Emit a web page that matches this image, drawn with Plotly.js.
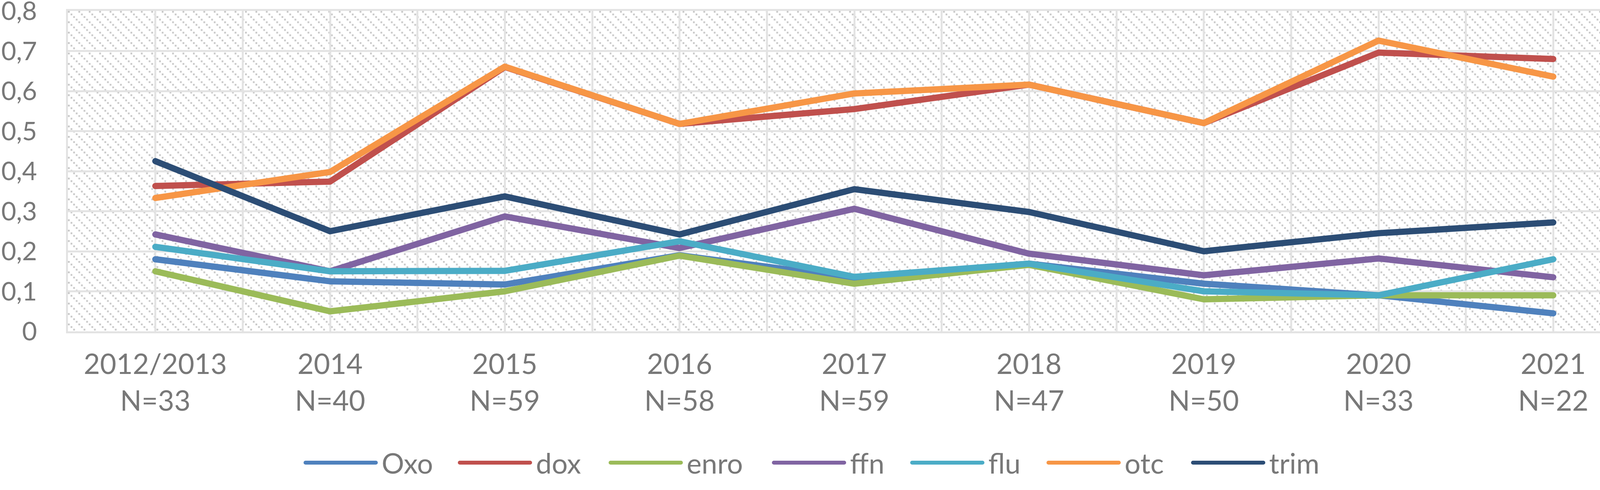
<!DOCTYPE html>
<html>
<head>
<meta charset="utf-8">
<script src="https://cdn.plot.ly/plotly-3.0.1.min.js"></script>
<style>
  html, body { margin: 0; padding: 0; background: #fff; }
  #chart { width: 4204px; height: 1254px; }
  .scatterlayer .js-line, .legendlines path { stroke-linecap: round; stroke-linejoin: round; }
</style>
</head>
<body>
<div id="chart"></div>
<script>
const years = ['2012/2013', '2014', '2015', '2016', '2017', '2018', '2019', '2020', '2021'];
const counts = [33, 40, 59, 58, 59, 47, 50, 33, 22];

const oxo  = [0.180, 0.125, 0.117, 0.190, 0.133, 0.169, 0.119, 0.090, 0.045];
const dox  = [0.363, 0.374, 0.660, 0.518, 0.555, 0.616, 0.520, 0.696, 0.680];
const enro = [0.150, 0.050, 0.100, 0.189, 0.119, 0.166, 0.080, 0.090, 0.090];
const ffn  = [0.242, 0.150, 0.287, 0.208, 0.306, 0.194, 0.140, 0.182, 0.135];
const flu  = [0.211, 0.150, 0.151, 0.225, 0.136, 0.169, 0.100, 0.090, 0.180];
const otc  = [0.333, 0.398, 0.661, 0.518, 0.594, 0.616, 0.520, 0.726, 0.636];
const trim = [0.425, 0.250, 0.337, 0.242, 0.355, 0.298, 0.200, 0.245, 0.272];

const seriesNames = ['Oxo', 'dox', 'enro', 'ffn', 'flu', 'otc', 'trim'];
const seriesColors = ['#4F81BD', '#C0504D', '#9BBB59', '#8064A2', '#4BACC6', '#F79646', '#2C4D75'];
const seriesValues = [oxo, dox, enro, ffn, flu, otc, trim];
// legend entry widths (text part), so the entries are spaced like the original
const legendWidths = [190, 181, 213, 149, 144, 165, 143];

const xIdx = years.map((_, i) => i);
const tickLabels = years.map((y, i) => y + '<br>N=' + counts[i]);

const textColor = '#787878';
const gridColor = '#e3e3e3';

// Excel-like dotted downward diagonal hatch for the plot area, as an svg image
const plotW = 4204 - 174 - 4, plotH = 1254 - 28 - 406;
const tile = 80 / 3;
let dots = '';
for (let k = 0; k < 4; k++) {
  dots += `<rect x='${k * tile / 4}' y='${k * tile / 4}' width='4.5' height='4.5' fill='#c8c8c8'/>`;
}
const hatchSvg = `<svg xmlns='http://www.w3.org/2000/svg' width='${plotW}' height='${plotH}' viewBox='0 0 ${plotW} ${plotH}' preserveAspectRatio='none'>` +
  `<defs><pattern id='h' patternUnits='userSpaceOnUse' width='${tile}' height='${tile}'>${dots}</pattern></defs>` +
  `<rect width='${plotW}' height='${plotH}' fill='#ffffff'/><rect width='${plotW}' height='${plotH}' fill='url(#h)'/></svg>`;
const hatchSrc = 'data:image/svg+xml;charset=utf-8,' + encodeURIComponent(hatchSvg);

const traces = seriesNames.map((name, i) => ({
  x: xIdx,
  y: seriesValues[i],
  name: name,
  type: 'scatter',
  mode: 'lines',
  line: { color: seriesColors[i], width: 16 },
  legendwidth: legendWidths[i]
}));

const layout = {
  width: 4204,
  height: 1254,
  margin: { l: 174, r: 4, t: 28, b: 406, autoexpand: false },
  paper_bgcolor: '#ffffff',
  plot_bgcolor: 'rgba(0,0,0,0)',
  separators: ', ',
  font: { family: 'Lato, "Open Sans", sans-serif', color: textColor, size: 72 },
  images: [{
    source: hatchSrc,
    xref: 'paper', yref: 'paper',
    x: 0, y: 1, sizex: 1, sizey: 1,
    xanchor: 'left', yanchor: 'top',
    sizing: 'stretch',
    layer: 'below'
  }],
  xaxis: {
    range: [-0.5, years.length - 0.5],
    tickmode: 'array',
    tickvals: xIdx,
    ticktext: tickLabels,
    tickfont: { size: 72, color: textColor },
    ticks: '',
    showgrid: true,
    gridcolor: gridColor,
    gridwidth: 5,
    minor: { tickmode: 'linear', tick0: -0.5, dtick: 0.5, showgrid: true, gridcolor: gridColor, gridwidth: 5, ticks: '' },
    showline: true,
    mirror: true,
    linecolor: gridColor,
    linewidth: 5,
    zeroline: false,
    fixedrange: true,
    ticklabelstandoff: 18,
    ticklabeloverflow: 'allow'
  },
  yaxis: {
    range: [0, 0.8],
    dtick: 0.1,
    tick0: 0,
    tickformat: '.1~f',
    tickfont: { size: 66, color: textColor },
    ticks: '',
    showgrid: true,
    gridcolor: gridColor,
    gridwidth: 5,
    showline: true,
    mirror: true,
    linecolor: gridColor,
    linewidth: 5,
    zeroline: false,
    fixedrange: true,
    ticklabelstandoff: 61,
    ticklabeloverflow: 'allow'
  },
  showlegend: true,
  legend: {
    orientation: 'h',
    x: 0.1498,
    xanchor: 'left',
    y: -0.41,
    yanchor: 'middle',
    font: { size: 72, color: textColor },
    itemwidth: 190,
    bgcolor: 'rgba(0,0,0,0)'
  }
};

Plotly.newPlot('chart', traces, layout, { displayModeBar: false, staticPlot: true }).then(gd => {
  // longer legend swatches, as in the original
  gd.querySelectorAll('.legendlines path').forEach(p => p.setAttribute('d', 'M5,0h180'));
});
</script>
</body>
</html>
